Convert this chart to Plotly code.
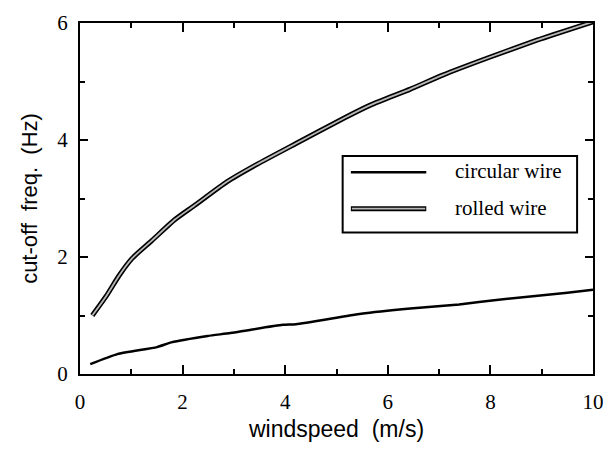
import plotly.graph_objects as go

# circular wire
circ_x = [0.2, 0.73, 1.5, 1.78, 2.49, 2.93, 3.95, 4.21, 5.48, 6.44, 7.39, 8.16, 9.5, 10.0]
circ_y = [0.17, 0.34, 0.46, 0.54, 0.65, 0.70, 0.84, 0.85, 1.03, 1.12, 1.19, 1.27, 1.39, 1.44]
# rolled wire
roll_x = [0.24, 0.51, 0.76, 1.02, 1.40, 1.85, 2.23, 2.87, 3.44, 4.21, 5.16, 5.67, 6.44, 7.07, 7.97, 8.92, 10.0]
roll_y = [1.00, 1.33, 1.68, 1.98, 2.28, 2.64, 2.88, 3.29, 3.58, 3.94, 4.38, 4.60, 4.87, 5.11, 5.41, 5.71, 6.02]

series_names = ["circular wire", "rolled wire"]
x_ticks = [0, 2, 4, 6, 8, 10]
y_ticks = [0, 2, 4, 6]

fig = go.Figure()
fig.add_trace(go.Scatter(x=circ_x, y=circ_y, mode="lines", name=series_names[0],
                         line=dict(color="black", width=2.5, shape="spline", smoothing=0.5),
                         showlegend=False))
fig.add_trace(go.Scatter(x=roll_x, y=roll_y, mode="lines", name=series_names[1],
                         line=dict(color="black", width=5, shape="spline", smoothing=0.6),
                         showlegend=False))
fig.add_trace(go.Scatter(x=roll_x, y=roll_y, mode="lines", name=series_names[1],
                         line=dict(color="#b8b8b8", width=1.8, shape="spline", smoothing=0.6),
                         showlegend=False))

# custom legend box
lx0, lx1, ly0, ly1 = 0.512, 0.969, 0.403, 0.621
fig.add_shape(type="rect", xref="paper", yref="paper", x0=lx0, x1=lx1, y0=ly0, y1=ly1,
              line=dict(color="black", width=2), fillcolor="white", layer="above")
fig.add_shape(type="line", xref="paper", yref="paper", x0=0.528, x1=0.675, y0=0.575, y1=0.575,
              line=dict(color="black", width=2.5), layer="above")
fig.add_shape(type="line", xref="paper", yref="paper", x0=0.528, x1=0.675, y0=0.471, y1=0.471,
              line=dict(color="black", width=5), layer="above")
fig.add_shape(type="line", xref="paper", yref="paper", x0=0.530, x1=0.673, y0=0.471, y1=0.471,
              line=dict(color="#b8b8b8", width=1.8), layer="above")
for name, yy in zip(series_names, [0.578, 0.474]):
    fig.add_annotation(x=0.727, y=yy, xref="paper", yref="paper", text=name, showarrow=False,
                       xanchor="left", yanchor="middle",
                       font=dict(family="Liberation Serif", size=21, color="black"))

axis_common = dict(showgrid=False, zeroline=False, showline=True, linecolor="black", linewidth=2,
                   mirror="allticks", ticks="inside", tickcolor="black", tickwidth=1.5,
                   tickfont=dict(family="Liberation Serif", size=21, color="black"))

fig.update_xaxes(range=[0, 10], tickvals=x_ticks, ticklen=9, ticklabelstandoff=8,
                 minor=dict(ticks="inside", ticklen=5, dtick=1, tickcolor="black", tickwidth=1.5),
                 title=dict(text="windspeed  (m/s)", standoff=8,
                            font=dict(family="Liberation Sans", size=23, color="black")),
                 **axis_common)
fig.update_yaxes(range=[0, 6], tickvals=y_ticks, ticklen=8, ticklabelstandoff=6,
                 minor=dict(ticks="inside", ticklen=5, dtick=1, tickcolor="black", tickwidth=1.5),
                 title=dict(text="cut-off  freq.  (Hz)", standoff=14,
                            font=dict(family="Liberation Sans", size=22, color="black")),
                 **axis_common)

fig.update_layout(width=615, height=449, margin=dict(l=80, r=12, t=11, b=71),
                  plot_bgcolor="white", paper_bgcolor="white", showlegend=False)

fig.write_html("out.html")
